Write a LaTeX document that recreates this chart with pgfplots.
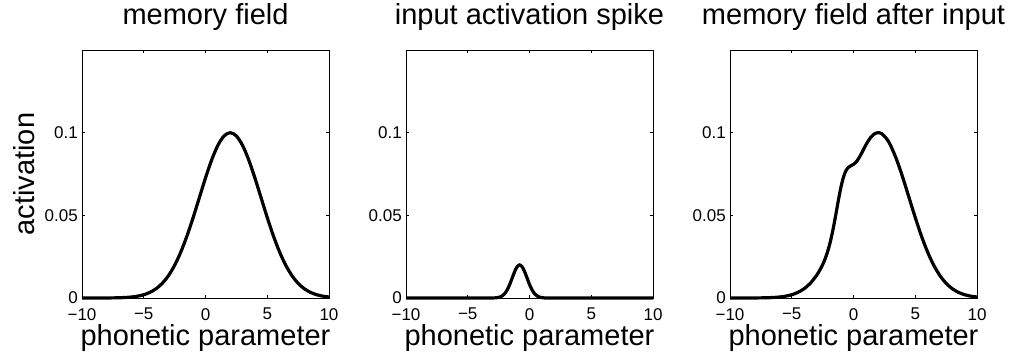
\documentclass[border=0pt]{standalone}
\usepackage{fontspec}
\setmainfont{Liberation Sans}
\usepackage{pgfplots}
\usepackage{pgfplotstable}
\pgfplotsset{compat=1.18}

\pgfplotstableread{
x y
-10 0.000001
-9.5 0.0000025
-9 0.0000063
-8.5 0.0000147
-8 0.0000335
-7.5 0.000073
-7 0.000153
-6.5 0.000309
-6 0.000598
-5.5 0.001111
-5 0.001984
-4.5 0.003405
-4 0.00561
-3.5 0.00889
-3 0.01353
-2.5 0.01979
-2 0.02780
-1.5 0.03753
-1 0.04868
-0.5 0.06065
0 0.07261
0.5 0.08353
1 0.09231
1.5 0.09802
2 0.1
2.5 0.09802
3 0.09231
3.5 0.08353
4 0.07261
4.5 0.06065
5 0.04868
5.5 0.03753
6 0.02780
6.5 0.01979
7 0.01353
7.5 0.00889
8 0.00561
8.5 0.003405
9 0.001984
9.5 0.001111
10 0.000598
}\memory

\pgfplotstableread{
x y
-10 0
-3.4 0
-3.0 0.00002
-2.8 0.00008
-2.6 0.00022
-2.4 0.00057
-2.2 0.00131
-2.0 0.00271
-1.8 0.00499
-1.6 0.00822
-1.4 0.01213
-1.2 0.01601
-1.0 0.01892
-0.8 0.02
-0.6 0.01892
-0.4 0.01601
-0.2 0.01213
0.0 0.00822
0.2 0.00499
0.4 0.00271
0.6 0.00131
0.8 0.00057
1.0 0.00022
1.2 0.00008
1.4 0.00002
1.8 0
10 0
}\spike

\pgfplotstableread{
x y
-10 0.000001
-9 0.0000063
-8 0.0000335
-7 0.000153
-6.5 0.000309
-6 0.000598
-5.5 0.001111
-5 0.001984
-4.5 0.003405
-4 0.00561
-3.5 0.00889
-3.0 0.01355
-2.8 0.01591
-2.6 0.01862
-2.4 0.02182
-2.2 0.02570
-2.0 0.03051
-1.8 0.03649
-1.6 0.04368
-1.4 0.05179
-1.2 0.06009
-1.0 0.06760
-0.8 0.07341
-0.6 0.07715
-0.4 0.07909
-0.2 0.08003
0.0 0.08083
0.2 0.08216
0.4 0.08419
0.6 0.08680
0.8 0.08969
1.0 0.09253
1.2 0.09509
1.4 0.09718
1.7 0.09928
2.0 0.1
2.3 0.09928
2.7 0.09616
3 0.09231
3.5 0.08353
4 0.07261
4.5 0.06065
5 0.04868
5.5 0.03753
6 0.02780
6.5 0.01979
7 0.01353
7.5 0.00889
8 0.00561
8.5 0.003405
9 0.001984
9.5 0.001111
10 0.000598
}\after

\pgfplotsset{panel/.style={
  scale only axis, width=247pt, height=248pt,
  xmin=-10, xmax=10, ymin=0, ymax=0.15,
  xtick={-10,-5,0,5,10}, xticklabels={−10,−5,0,5,10},
  ytick={0,0.05,0.1}, yticklabels={0,0.05,0.1},
  tick align=inside, xtick pos=both, ytick pos=both,
  major tick length=3pt,
  axis line style={line width=0.9pt, black},
  every tick/.style={black, line width=0.8pt},
  clip=false,
  ticklabel style={font=\fontsize{17}{17}\selectfont},
  xticklabel style={anchor=north, inner sep=0pt, yshift=-10pt},
  yticklabel style={anchor=east, inner sep=0pt, xshift=-4pt},
  title style={at={(axis description cs:0.5,1.0806)}, anchor=base, font=\fontsize{29}{29}\selectfont, inner sep=0pt},
  xlabel style={at={(axis description cs:0.5,-0.1935)}, anchor=base, font=\fontsize{29}{29}\selectfont, inner sep=0pt},
  ylabel style={at={(axis description cs:-0.1943,0.5)}, anchor=base, font=\fontsize{29}{29}\selectfont, inner sep=0pt},
  xlabel={phonetic parameter},
}}

\begin{document}
\begin{tikzpicture}[x=1pt,y=1pt]
\path[use as bounding box] (0,0) rectangle (1010,354);
\begin{axis}[panel, at={(82pt,56pt)}, anchor=south west, title={memory field}, ylabel={activation}]
\addplot[black, line width=3.2pt, smooth] table[x=x,y=y] {\memory};
\end{axis}
\begin{axis}[panel, at={(406pt,56pt)}, anchor=south west, title={input activation spike}]
\addplot[black, line width=3.2pt, smooth] table[x=x,y=y] {\spike};
\end{axis}
\begin{axis}[panel, at={(730pt,56pt)}, anchor=south west, title={memory field after input}]
\addplot[black, line width=3.2pt, smooth] table[x=x,y=y] {\after};
\end{axis}
\end{tikzpicture}
\end{document}
